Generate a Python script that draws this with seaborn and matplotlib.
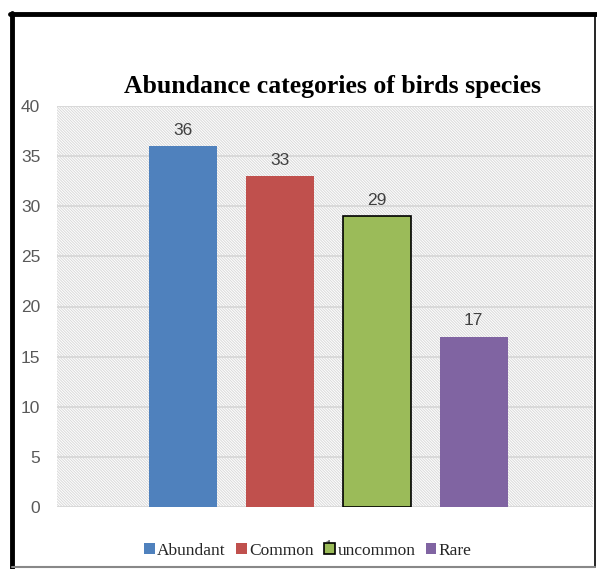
import matplotlib
matplotlib.use("Agg")
import matplotlib.pyplot as plt
import seaborn as sns
import pandas as pd
from matplotlib.patches import Rectangle, Patch
from matplotlib.lines import Line2D

categories = ["Abundant", "Common", "uncommon", "Rare"]
values = [36, 33, 29, 17]
colors = ["#4F81BD", "#C0504D", "#9BBB59", "#8064A2"]
title = "Abundance categories of birds species"
yticks = [0, 5, 10, 15, 20, 25, 30, 35, 40]

df = pd.DataFrame({"cat": categories, "val": values})

sns.set_theme(style="white")
plt.rcParams["font.family"] = ["Liberation Sans", "DejaVu Sans"]
plt.rcParams["hatch.linewidth"] = 0.7
plt.rcParams["hatch.color"] = "#d9d9d9"

fig = plt.figure(figsize=(5.97, 5.69), dpi=100)
ax = fig.add_axes([57/597, 1-507/569, (593-57)/597, (507-106)/569])

sns.barplot(data=df, x="cat", y="val", hue="cat", palette=colors,
            width=0.7, dodge=False, legend=False, ax=ax, zorder=3,
            saturation=1)
bars = [p for c in ax.containers for p in c]
for i, p in enumerate(bars):
    if categories[i] == "uncommon":
        p.set_edgecolor("black")
        p.set_linewidth(1.2)
    else:
        p.set_linewidth(0)

# hatched background
bg = Rectangle((0, 0), 1, 1, transform=ax.transAxes, facecolor="white",
               edgecolor="#d9d9d9", hatch="\\" * 12, linewidth=0, zorder=0)
ax.add_patch(bg)

for c in ax.containers:
    ax.bar_label(c, labels=[f"{v:g}" for v in c.datavalues], padding=6,
                 fontsize=12.5, color="#404040")

ax.set_xlim(-1.3, 4.23)
ax.set_ylim(0, 40)
ax.set_yticks(yticks)
ax.set_yticklabels([str(t) for t in yticks], fontsize=12.5, color="#595959")
ax.set_xticks([1.5])
ax.set_xticklabels(["1"], fontsize=11, color="#404040",
                   family=["Liberation Serif"])
ax.tick_params(axis="x", length=0, pad=24)
ax.tick_params(axis="y", length=0, pad=12)
ax.set_xlabel("")
ax.set_ylabel("")
for s in ax.spines.values():
    s.set_visible(False)
ax.grid(axis="y", color="#d9d9d9", linewidth=1.4, zorder=1)
ax.set_axisbelow(True)

handles = []
for c, col in zip(categories, colors):
    ec = "black" if c == "uncommon" else col
    handles.append(Patch(facecolor=col, edgecolor=ec,
                         linewidth=1.2 if c == "uncommon" else 0, label=c))
leg = fig.legend(handles=handles, loc="center", bbox_to_anchor=(308/597, 1-551/569),
                 ncol=4, frameon=False, handlelength=0.6, handleheight=0.6,
                 handletextpad=0.15, columnspacing=0.6,
                 prop={"family": "Liberation Serif", "size": 12.5})

fig.text(332/597, 1-86/569, title, ha="center", va="center",
         fontsize=18.5, fontweight="bold", family="Liberation Serif", color="black")

# frame
fig.add_artist(Line2D([12/597, 12/597], [0, 1-13/569], color="black", lw=3.5, transform=fig.transFigure))
fig.add_artist(Line2D([10/597, 1], [1-14/569, 1-14/569], color="black", lw=3.5, transform=fig.transFigure))
fig.add_artist(Line2D([595/597, 595/597], [1-567/569, 1-14/569], color="black", lw=1.2, transform=fig.transFigure))
fig.add_artist(Line2D([12/597, 595/597], [1-567/569, 1-567/569], color="#888888", lw=1.5, transform=fig.transFigure))

fig.savefig("out.png", dpi=100)
